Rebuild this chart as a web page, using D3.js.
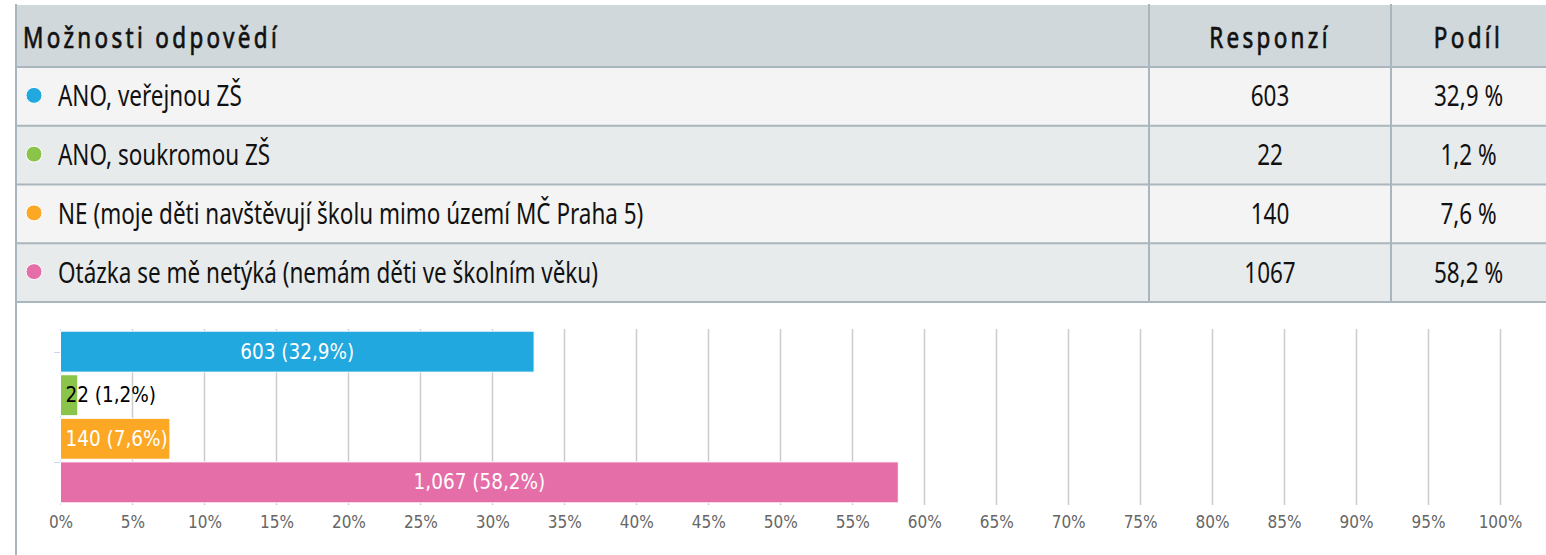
<!DOCTYPE html>
<html>
<head>
<meta charset="utf-8">
<script src="https://cdn.jsdelivr.net/npm/d3@7"></script>
<style>
  body { margin: 0; background: #fff; }
  svg { display: block; }
</style>
</head>
<body>
<svg id="chart" width="1546" height="555"></svg>
<script>
var answers = [
  "ANO, veřejnou ZŠ",
  "ANO, soukromou ZŠ",
  "NE (moje děti navštěvují školu mimo území MČ Praha 5)",
  "Otázka se mě netýká (nemám děti ve školním věku)"
];
var counts = [603, 22, 140, 1067];
var shares = [32.9, 1.2, 7.6, 58.2];
var colors = ["#20a8df", "#8bc44a", "#fca825", "#e56ea8"];
var headers = ["Možnosti odpovědí", "Responzí", "Podíl"];
var xTicks = d3.range(0, 101, 5);

var svg = d3.select("#chart");
// no narrow font installed, so squeeze Noto Sans horizontally
var tableFont = "'Noto Sans', sans-serif";
var squeeze = 0.775;
var chartFont = "'DejaVu Sans Condensed', 'DejaVu Sans', sans-serif";
var lineColor = "#a9b6bd";

// ---- table ----
var tableLeft = 16, tableRight = 1546, tableTop = 5;
var headH = 62, rowH = 58.75;
var col1 = 1149, col2 = 1391; // column separators

var table = svg.append("g").attr("class", "table");

function cellText(g, x, y, txt, anchor) {
  return g.append("text")
    .attr("transform", "translate(" + x + "," + y + ") scale(" + squeeze + ",1)")
    .attr("text-anchor", anchor || "start")
    .attr("font-family", tableFont).attr("font-size", 29)
    .attr("fill", "#111")
    .text(txt);
}

table.append("rect")
  .attr("x", tableLeft).attr("y", tableTop)
  .attr("width", tableRight - tableLeft).attr("height", headH)
  .attr("fill", "#d0d8dc");

var rows = table.selectAll(".row")
  .data(answers)
  .enter()
  .append("g")
    .attr("class", "row")
    .attr("transform", function(d, i) {
      return "translate(0," + (tableTop + headH + i * rowH) + ")";
    });

rows.append("rect")
  .attr("x", tableLeft).attr("y", 0)
  .attr("width", tableRight - tableLeft).attr("height", rowH)
  .attr("fill", function(d, i) { return i % 2 === 0 ? "#f4f4f4" : "#e8ebec"; });

rows.append("circle")
  .attr("cx", 34).attr("cy", rowH / 2 - 1)
  .attr("r", 8)
  .attr("fill", function(d, i) { return colors[i]; })
  .attr("stroke", "#fff").attr("stroke-width", 1);

rows.each(function(d, i) {
  var g = d3.select(this);
  var base = rowH / 2 + 10;
  cellText(g, 58, base, d);
  cellText(g, (col1 + col2) / 2, base, counts[i], "middle");
  cellText(g, (col2 + tableRight) / 2, base, String(shares[i]).replace(".", ",") + " %", "middle");
});

// header texts, a bit heavier and letter spaced
var headY = tableTop + headH / 2 + 12;
[[23, "start"], [(col1 + col2) / 2, "middle"], [(col2 + tableRight) / 2, "middle"]]
  .forEach(function(p, i) {
    cellText(table, p[0], headY, headers[i], p[1])
      .attr("letter-spacing", 4.3)
      .attr("stroke", "#111").attr("stroke-width", 0.7);
  });

// grid lines of the table
var tableBottom = tableTop + headH + answers.length * rowH;
var hLines = [tableTop + headH].concat(answers.map(function(d, i) {
  return tableTop + headH + (i + 1) * rowH;
}));
table.selectAll(".hline")
  .data(hLines)
  .enter()
  .append("line")
    .attr("x1", tableLeft).attr("x2", tableRight)
    .attr("y1", function(d) { return d; }).attr("y2", function(d) { return d; })
    .attr("stroke", lineColor).attr("stroke-width", 2);

table.selectAll(".vline")
  .data([col1, col2])
  .enter()
  .append("line")
    .attr("x1", function(d) { return d; }).attr("x2", function(d) { return d; })
    .attr("y1", tableTop - 1).attr("y2", tableBottom)
    .attr("stroke", lineColor).attr("stroke-width", 2);

// left border runs the full height
svg.append("line")
  .attr("x1", tableLeft).attr("x2", tableLeft)
  .attr("y1", tableTop - 1).attr("y2", 555)
  .attr("stroke", lineColor).attr("stroke-width", 2);

// ---- bar chart ----
var plotTop = 329, plotBottom = 505;
var x = d3.scaleLinear().domain([0, 100]).range([60.5, 1500]);
var y = d3.scaleBand()
  .domain(d3.range(answers.length))
  .range([plotTop, plotBottom])
  .paddingInner(0.06)
  .paddingOuter(0.05);

var chart = svg.append("g").attr("class", "bars");

// vertical grid lines
chart.selectAll(".grid")
  .data(xTicks.filter(function(t) { return t > 0; }))
  .enter()
  .append("line")
    .attr("x1", function(d) { return Math.round(x(d)) + 0.5; })
    .attr("x2", function(d) { return Math.round(x(d)) + 0.5; })
    .attr("y1", plotTop).attr("y2", plotBottom)
    .attr("stroke", "#cccccc").attr("stroke-width", 1.5);

// x axis labels
var xAxis = d3.axisBottom(x)
  .tickValues(xTicks)
  .tickSize(0)
  .tickPadding(0)
  .tickFormat(function(d) { return d + "%"; });

var xAxisG = chart.append("g")
  .attr("transform", "translate(0," + plotBottom + ")")
  .call(xAxis);
xAxisG.select(".domain").remove();
xAxisG.selectAll("text")
  .attr("dy", null)
  .attr("y", 23)
  .attr("font-family", chartFont).attr("font-size", 17)
  .attr("fill", "#666");

// y axis line and its two small ticks
chart.append("line")
  .attr("x1", 60.5).attr("x2", 60.5)
  .attr("y1", plotTop).attr("y2", plotBottom)
  .attr("stroke", "#ccd6eb").attr("stroke-width", 1);
chart.selectAll(".ytick")
  .data([y(0) + y.bandwidth() / 2, y(3)])
  .enter()
  .append("line")
    .attr("x1", 54).attr("x2", 60)
    .attr("y1", function(d) { return Math.round(d) + 0.5; })
    .attr("y2", function(d) { return Math.round(d) + 0.5; })
    .attr("stroke", "#ccd6eb").attr("stroke-width", 1);

// bars
chart.selectAll(".bar")
  .data(counts)
  .enter()
  .append("rect")
    .attr("class", "bar")
    .attr("x", x(0))
    .attr("y", function(d, i) { return y(i); })
    .attr("width", function(d, i) { return x(shares[i]) - x(0); })
    .attr("height", y.bandwidth())
    .attr("fill", function(d, i) { return colors[i]; })
    .attr("stroke", "#fff").attr("stroke-width", 1);

// bar labels: centered inside wide bars, left aligned otherwise
var fmt = d3.format(",");
chart.selectAll(".label")
  .data(counts)
  .enter()
  .append("text")
    .attr("class", "label")
    .attr("x", function(d, i) {
      var w = x(shares[i]) - x(0);
      return w > 200 ? x(0) + w / 2 : x(0) + 5;
    })
    .attr("y", function(d, i) { return y(i) + y.bandwidth() / 2 + 7; })
    .attr("text-anchor", function(d, i) {
      return x(shares[i]) - x(0) > 200 ? "middle" : "start";
    })
    .attr("font-family", chartFont).attr("font-size", 20.5)
    .attr("fill", function(d, i) { return shares[i] < 5 ? "#000" : "#fff"; })
    .text(function(d, i) {
      return fmt(d) + " (" + String(shares[i]).replace(".", ",") + "%)";
    });
</script>
</body>
</html>
